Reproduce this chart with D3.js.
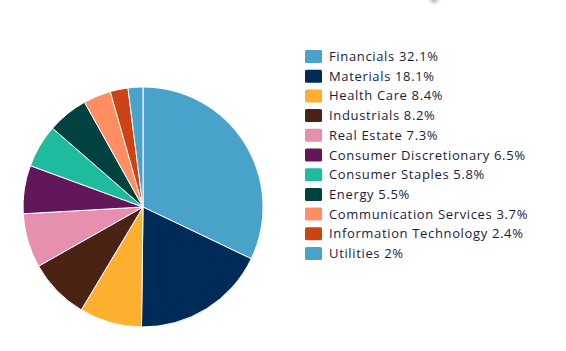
<!DOCTYPE html>
<html>
<head>
<meta charset="utf-8">
<script src="https://cdn.jsdelivr.net/npm/d3@7"></script>
<style>
  body { margin: 0; background: #fff; }
  svg { display: block; }
</style>
</head>
<body>
<script>
// Sector allocation pie

const sectors = ["Financials", "Materials", "Health Care", "Industrials", "Real Estate",
                 "Consumer Discretionary", "Consumer Staples", "Energy",
                 "Communication Services", "Information Technology", "Utilities"];
const weights = [32.1, 18.1, 8.4, 8.2, 7.3, 6.5, 5.8, 5.5, 3.7, 2.4, 2];
const labels = ["32.1%", "18.1%", "8.4%", "8.2%", "7.3%", "6.5%", "5.8%", "5.5%", "3.7%", "2.4%", "2%"];
const colors = ["#48a2c9", "#002a58", "#fdaf2f", "#4b2314", "#e78fae", "#63175b",
                "#1fbb9f", "#00423f", "#ff8f63", "#cc4416", "#48a2c9"];

const width = 566, height = 351;
const cx = 143, cy = 207, radius = 120;

const data = sectors.map((s, i) => ({name: s, value: weights[i], label: labels[i], color: colors[i]}));

const svg = d3.select("body").append("svg")
              .attr("width", width)
              .attr("height", height);

// faint shadow at the top edge (tooltip remnant)
const defs = svg.append("defs");
defs.append("filter").attr("id", "blur")
    .append("feGaussianBlur").attr("stdDeviation", 1.5);
svg.append("path")
   .attr("d", "M426,-4 L442,-4 L434,4 Z")
   .attr("fill", "#bbb")
   .attr("filter", "url(#blur)");

const pie = d3.pie()
              .value(d => d.value)
              .sort(null);

const arc = d3.arc()
              .innerRadius(0)
              .outerRadius(radius);

const pieG = svg.append("g")
                .attr("transform", "translate(" + cx + "," + cy + ")");

pieG.selectAll(".slice")
    .data(pie(data))
    .join("path")
    .attr("class", "slice")
    .attr("d", arc)
    .attr("fill", d => d.data.color)
    .attr("stroke", "#fff")
    .attr("stroke-width", 1);

// legend
const rowY = d3.scaleBand()
               .domain(sectors)
               .range([46.5, 46.5 + 19.7 * sectors.length]);

const legend = svg.append("g");

const rows = legend.selectAll(".row")
                   .data(data)
                   .join("g")
                   .attr("class", "row")
                   .attr("transform", d => "translate(305," + rowY(d.name) + ")");

rows.append("rect")
    .attr("x", 0)
    .attr("y", 3.5)
    .attr("width", 17)
    .attr("height", 13)
    .attr("rx", 1.5)
    .attr("fill", d => d.color);

rows.append("text")
    .attr("x", 24)
    .attr("y", 10)
    .attr("dy", "0.35em")
    .attr("fill", "#1e1a3c")
    .style("font-family", "'Open Sans', sans-serif")
    .style("font-size", "13px")
    .style("letter-spacing", "0.65px")
    .text(d => d.name + " " + d.label);
</script>
</body>
</html>
